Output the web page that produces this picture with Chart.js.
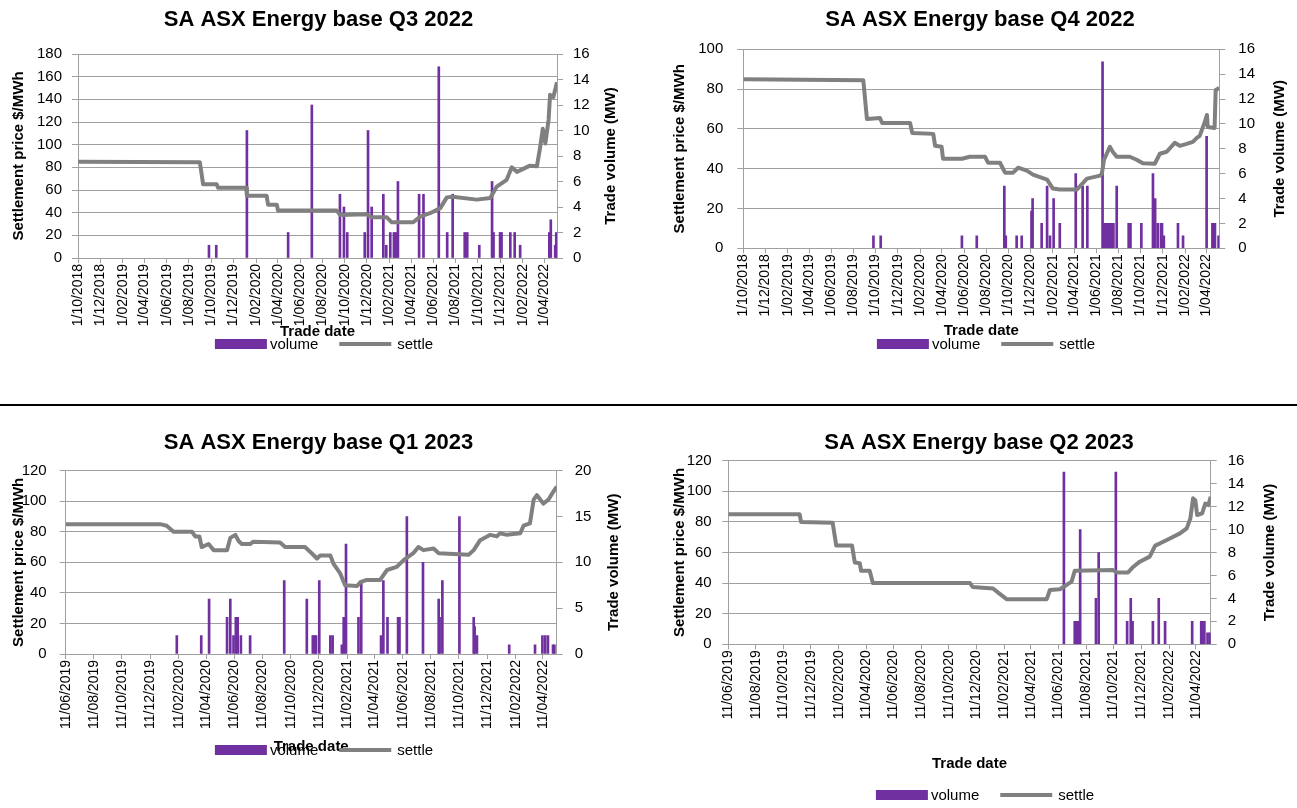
<!DOCTYPE html>
<html><head><meta charset="utf-8">
<script src="https://cdn.jsdelivr.net/npm/chart.js@4.4.1/dist/chart.umd.min.js"></script>
<style>
html,body{margin:0;padding:0;background:#fff;overflow:hidden;width:1297px;height:808px;}
canvas{position:absolute;}
#sep{position:absolute;left:0;top:404px;width:1297px;height:2px;background:#000;}
</style></head><body>
<canvas id="c1"></canvas><canvas id="c2"></canvas><canvas id="c3"></canvas><canvas id="c4"></canvas>
<div id="sep"></div>
<script>
// ---------------- DATA ----------------
const ticksOct2018 = ['1/10/2018','1/12/2018','1/02/2019','1/04/2019','1/06/2019','1/08/2019','1/10/2019','1/12/2019','1/02/2020','1/04/2020','1/06/2020','1/08/2020','1/10/2020','1/12/2020','1/02/2021','1/04/2021','1/06/2021','1/08/2021','1/10/2021','1/12/2021','1/02/2022','1/04/2022'];
const ticksJun2019 = ['11/06/2019','11/08/2019','11/10/2019','11/12/2019','11/02/2020','11/04/2020','11/06/2020','11/08/2020','11/10/2020','11/12/2020','11/02/2021','11/04/2021','11/06/2021','11/08/2021','11/10/2021','11/12/2021','11/02/2022','11/04/2022'];

// Q3 2022
const q3SettleDates = ['2018-10-01','2019-08-31','2019-09-09','2019-10-16','2019-10-20','2020-01-05','2020-01-07','2020-03-01','2020-03-05','2020-03-29','2020-04-01','2020-09-09','2020-09-18','2020-12-01','2020-12-14','2021-01-24','2021-02-07','2021-04-07','2021-04-26','2021-05-23','2021-06-20','2021-07-08','2021-07-24','2021-09-28','2021-11-04','2021-11-22','2021-12-19','2022-01-02','2022-01-16','2022-02-21','2022-03-12','2022-03-21','2022-03-28','2022-04-04','2022-04-13','2022-04-17','2022-04-26','2022-05-06'];
const q3Settle = [85,84.5,65,65,62,62,55,55,47,47,42,42,38,38.5,36,36,31.5,31.5,36.5,39.5,44,53.5,54,51.5,53,63,69,80,76,81.5,81,98,114,101,122,144,142,155];
const q3VolDates = ['2019-09-25','2019-10-15','2020-01-07','2020-04-29','2020-07-03','2020-09-18','2020-09-29','2020-10-08','2020-11-25','2020-12-04','2020-12-14','2021-01-15','2021-01-23','2021-02-03','2021-02-13','2021-02-18','2021-02-24','2021-04-23','2021-05-05','2021-06-16','2021-07-09','2021-07-24','2021-08-26','2021-09-02','2021-10-05','2021-11-09','2021-11-13','2021-12-01','2021-12-05','2021-12-29','2022-01-10','2022-01-25','2022-04-15','2022-04-19','2022-05-01','2022-05-04'];
const q3Volume = [1,1,10,2,12,5,4,2,2,10,4,5,1,2,2,2,6,5,5,15,2,5,2,2,1,6,2,2,2,2,2,1,2,3,1,2];

// Q4 2022
const q4SettleDates = ['2018-10-01','2019-08-28','2019-09-07','2019-10-13','2019-10-19','2020-01-04','2020-01-10','2020-03-08','2020-03-13','2020-03-31','2020-04-04','2020-05-26','2020-06-17','2020-07-29','2020-08-06','2020-09-08','2020-09-22','2020-10-14','2020-10-28','2020-11-21','2020-12-08','2021-01-16','2021-02-01','2021-02-20','2021-04-08','2021-05-06','2021-06-11','2021-06-16','2021-06-22','2021-07-08','2021-07-16','2021-07-27','2021-09-01','2021-09-20','2021-10-07','2021-11-09','2021-11-23','2021-12-12','2022-01-03','2022-01-17','2022-02-05','2022-02-22','2022-03-05','2022-03-13','2022-03-27','2022-04-02','2022-04-04','2022-04-23','2022-04-26','2022-05-06'];
const q4Settle = [85,84.5,65,65.5,63,63,58,57.5,51.5,51,45,45,46,46,43,43,38,38,40.5,39,37,34.5,30,29.5,29.5,35,36.5,37.5,44.5,51,48.5,46,46,44.5,42.7,42.5,47.5,48.5,53,51.5,52.5,53.5,55.5,56.5,63.5,67,61,60.5,79.5,80.5];
const q4VolDates = ['2019-09-25','2019-10-15','2020-05-26','2020-07-06','2020-09-20','2020-09-24','2020-10-24','2020-11-07','2020-12-04','2020-12-07','2021-01-01','2021-01-16','2021-01-24','2021-02-03','2021-02-20','2021-04-05','2021-04-24','2021-05-07','2021-06-18','2021-06-22','2021-06-26','2021-06-30','2021-07-05','2021-07-09','2021-07-13','2021-07-18','2021-07-27','2021-08-29','2021-09-03','2021-10-03','2021-11-04','2021-11-10','2021-11-17','2021-11-26','2021-11-29','2021-12-04','2022-01-12','2022-01-26','2022-04-01','2022-04-17','2022-04-21','2022-04-24','2022-05-04'];
const q4Volume = [1,1,1,1,5,1,1,1,3,4,2,5,1,4,2,6,5,5,15,2,2,2,2,2,2,2,5,2,2,2,6,4,2,2,2,1,2,1,9,2,2,2,1];

// Q1 2023
const q1SettleDates = ['2019-06-11','2020-01-02','2020-01-16','2020-01-31','2020-03-11','2020-03-18','2020-03-27','2020-04-01','2020-04-16','2020-04-27','2020-05-26','2020-06-02','2020-06-13','2020-06-20','2020-06-27','2020-07-15','2020-07-22','2020-09-18','2020-09-29','2020-11-11','2020-11-22','2020-12-07','2020-12-14','2021-01-05','2021-01-12','2021-01-26','2021-02-06','2021-03-04','2021-03-11','2021-03-25','2021-04-23','2021-05-08','2021-05-29','2021-06-13','2021-07-04','2021-07-15','2021-07-26','2021-08-17','2021-08-28','2021-11-01','2021-11-12','2021-11-26','2021-12-18','2022-01-01','2022-01-08','2022-01-23','2022-02-21','2022-02-28','2022-03-14','2022-03-22','2022-03-29','2022-04-12','2022-04-23','2022-05-01','2022-05-11'];
const q1Settle = [85,85,84,80,80,77,77,70,72,68,68,76,78,74,72,72,73.5,73,70,70,67,62.5,64.5,64.5,59,53,45,44.5,47,48.5,48.5,55,57,61.5,66,70,68,69,66,65,68,74.5,78,77,79,78,79,84,85.5,101,104,98.5,101,105,109.5];
const q1VolDates = ['2020-02-07','2020-03-31','2020-04-17','2020-05-26','2020-06-02','2020-06-09','2020-06-14','2020-06-18','2020-06-25','2020-07-15','2020-09-27','2020-11-15','2020-11-28','2020-12-02','2020-12-05','2020-12-12','2021-01-05','2021-01-10','2021-01-30','2021-02-03','2021-02-08','2021-03-07','2021-03-13','2021-04-25','2021-04-30','2021-05-09','2021-06-01','2021-06-04','2021-06-20','2021-07-25','2021-08-28','2021-08-30','2021-09-05','2021-10-12','2021-11-12','2021-11-14','2021-11-19','2022-01-28','2022-03-25','2022-04-10','2022-04-16','2022-04-22','2022-05-03','2022-05-06'];
const q1Volume = [2,2,6,4,6,2,4,4,2,2,8,6,2,2,2,8,2,2,1,4,12,4,8,2,8,4,4,4,15,10,6,4,8,15,4,3,2,1,1,2,2,2,1,1];

// Q2 2023
const q2SettleDates = ['2019-06-11','2019-11-16','2019-11-19','2020-01-28','2020-02-05','2020-03-11','2020-03-17','2020-03-28','2020-03-31','2020-04-19','2020-04-26','2020-11-27','2020-12-03','2021-01-17','2021-02-01','2021-02-16','2021-05-16','2021-05-23','2021-06-14','2021-06-29','2021-07-10','2021-07-17','2021-10-10','2021-10-18','2021-11-12','2021-11-24','2021-12-08','2021-12-30','2022-01-11','2022-01-22','2022-02-06','2022-03-07','2022-03-22','2022-03-30','2022-04-05','2022-04-10','2022-04-14','2022-04-25','2022-05-02','2022-05-09','2022-05-14'];
const q2Settle = [85,85,80,79.5,64.5,64.5,53.5,53,48,48,40,40,37.5,36.5,33,29.5,29.5,35.5,36,38.8,41,48,48.5,47,47,50.7,54,57.3,64.5,66,68.2,72.5,75.8,82.3,95.4,94,84.5,85.6,92,91,96.5];
const q2VolDates = ['2021-06-23','2021-07-17','2021-07-20','2021-07-24','2021-07-29','2021-09-02','2021-09-08','2021-10-16','2021-11-10','2021-11-18','2021-11-22','2022-01-06','2022-01-19','2022-02-02','2022-04-03','2022-04-23','2022-04-26','2022-04-30','2022-05-07','2022-05-12'];
const q2Volume = [15,2,2,2,10,4,8,15,2,4,2,2,4,2,2,2,2,2,1,1];

// ---------------- HELPERS ----------------
const SANS = '"Liberation Sans", Arial, Helvetica, sans-serif';
function fontAvailable(name) {
  const ctx = document.createElement('canvas').getContext('2d');
  const s = 'mmmmmmmmmmlli1/0123456789';
  ctx.font = '40px monospace'; const a = ctx.measureText(s).width;
  ctx.font = '40px serif'; const b = ctx.measureText(s).width;
  ctx.font = '40px "' + name + '", monospace'; const c = ctx.measureText(s).width;
  ctx.font = '40px "' + name + '", serif'; const d = ctx.measureText(s).width;
  return a !== c || b !== d;
}
let TF, XF;
if (fontAvailable('Liberation Sans Narrow')) {
  TF = {family: '"Liberation Sans Narrow", ' + SANS, size: 17}; XF = TF;
} else if (fontAvailable('Arial Narrow')) {
  TF = {family: '"Arial Narrow", ' + SANS, size: 17}; XF = TF;
} else {
  TF = {family: SANS, size: 15}; XF = {family: SANS, size: 14};
}

function dayNum(s) { const p = s.split('-').map(Number); return Date.UTC(p[0], p[1] - 1, p[2]) / 864e5; }
function tickDay(l) { const p = l.split('/').map(Number); return Date.UTC(p[2], p[1] - 1, p[0]) / 864e5; }

Chart.defaults.font.family = SANS;
Chart.defaults.color = '#000';

const GRID = '#a0a0a0';
const PURPLE = '#7030a0';
const GREY = '#808080';

const rightTitlePlugin = {
  id: 'rightTitle',
  afterDraw(chart, args, opts) {
    if (!opts || !opts.text) return;
    const {ctx, chartArea} = chart;
    ctx.save();
    ctx.font = 'bold 15px ' + SANS;
    ctx.fillStyle = '#000';
    ctx.textAlign = 'center';
    ctx.textBaseline = 'middle';
    ctx.translate(chartArea.right + opts.offset, (chartArea.top + chartArea.bottom) / 2);
    ctx.rotate(-Math.PI / 2);
    ctx.fillText(opts.text, 0, 0);
    ctx.restore();
  }
};

// Legend drawn from the chart's own datasets (labels and colours)
const legendPlugin = {
  id: 'sketchLegend',
  afterDraw(chart, args, opts) {
    const {ctx} = chart;
    const ds = chart.data.datasets;
    ctx.save();
    ctx.font = TF.size + 'px ' + TF.family;
    const widths = ds.map((d, i) => opts.boxWidth + opts.textGap[i] + ctx.measureText(d.label).width);
    const total = widths.reduce((a, b) => a + b, 0) + opts.itemGap * (ds.length - 1);
    let x = opts.cx - total / 2;
    const y = opts.cy;
    ds.forEach((d, i) => {
      if (d.type === 'bar') {
        ctx.fillStyle = d.backgroundColor;
        ctx.fillRect(x, y - opts.boxHeight / 2, opts.boxWidth, opts.boxHeight);
      } else {
        ctx.strokeStyle = d.borderColor;
        ctx.lineWidth = d.borderWidth;
        ctx.beginPath(); ctx.moveTo(x, y); ctx.lineTo(x + opts.boxWidth, y); ctx.stroke();
      }
      ctx.fillStyle = '#000'; ctx.textAlign = 'left'; ctx.textBaseline = 'middle';
      ctx.fillText(d.label, x + opts.boxWidth + opts.textGap[i], y + 1);
      x += widths[i] + opts.itemGap;
    });
    ctx.restore();
  }
};

function makeChart(P) {
  const L = P.L;
  const cv = document.getElementById(P.id);
  const H = Math.round(L.legendY - L.y + 14);
  cv.width = L.w; cv.height = H;
  cv.style.left = L.x + 'px'; cv.style.top = L.y + 'px';
  cv.style.width = L.w + 'px'; cv.style.height = H + 'px';
  const tLH = 22 * 1.2;
  const tPadTop = L.titleY - L.y - tLH / 2;
  const tPadBottom = (L.top - L.y) - tPadTop - tLH;
  const xAxisH = H - (L.bottom - L.y);
  const xTitlePadBottom = H - (L.xTitleY - L.y) - 9;
  const tickVals = P.ticks.map(tickDay);
  const settle = P.settleDates.map((d, i) => ({x: dayNum(d), y: P.settle[i]}));
  const vol = P.volDates.map((d, i) => ({x: dayNum(d), y: P.vol[i]}));
  return new Chart(cv, {
    type: 'line',
    data: {
      datasets: [
        {type: 'bar', label: 'volume', data: vol, yAxisID: 'y1', backgroundColor: PURPLE, borderWidth: 0,
         barThickness: 2, order: 2},
        {type: 'line', label: 'settle', data: settle, yAxisID: 'y', borderColor: GREY, backgroundColor: GREY,
         borderWidth: 4, pointRadius: 0, pointHoverRadius: 0, tension: 0, fill: false,
         borderJoinStyle: 'round', order: 1}
      ]
    },
    options: {
      responsive: false, animation: false, devicePixelRatio: 1,
      layout: {padding: 0},
      events: [],
      plugins: {
        title: {display: true, text: P.title, color: '#000', font: {family: SANS, size: 22, weight: 'bold'},
                padding: {top: tPadTop, bottom: tPadBottom}},
        legend: {display: false},
        tooltip: {enabled: false},
        rightTitle: {text: 'Trade volume (MW)', offset: L.rTitleX - L.right},
        sketchLegend: {cx: L.legendX - L.x, cy: L.legendY - L.y, boxWidth: 52, boxHeight: 10, textGap: [3, 6], itemGap: 21}
      },
      scales: {
        x: {type: 'linear', min: settle[0].x, max: settle[settle.length - 1].x, offset: false,
            afterBuildTicks: s => { s.ticks = tickVals.map(v => ({value: v})); },
            afterFit: s => { s.height = xAxisH; },
            ticks: {autoSkip: false, minRotation: 90, maxRotation: 90, padding: 1, color: '#000', font: XF,
                    callback: (v, i) => P.ticks[i]},
            grid: {display: true, drawOnChartArea: false, drawTicks: true, tickLength: 5, color: GRID, offset: false},
            border: {display: true, color: GRID, width: 1},
            title: {display: true, text: 'Trade date', color: '#000', font: {family: SANS, size: 15, weight: 'bold'},
                    padding: {top: 0, bottom: xTitlePadBottom}}},
        y: {type: 'linear', position: 'left', min: 0, max: P.yMax,
            ticks: {stepSize: P.yStep, padding: L.lPad, color: '#000', font: TF},
            grid: {color: GRID, drawTicks: true, tickLength: 6},
            border: {display: true, color: GRID},
            afterFit: s => { s.width = L.left - L.x; },
            title: {display: true, text: 'Settlement price $/MWh', color: '#000', font: {family: SANS, size: 15, weight: 'bold'},
                    padding: {top: L.lTitleX - L.x - 9, bottom: 0}}},
        y1: {type: 'linear', position: 'right', min: 0, max: P.y1Max,
             ticks: {stepSize: P.y1Step, padding: L.rPad, color: '#000', font: TF},
             grid: {drawOnChartArea: false, drawTicks: true, tickLength: 6, color: GRID},
             border: {display: true, color: GRID},
             afterFit: s => { s.width = L.x + L.w - L.right; }}
      }
    },
    plugins: [rightTitlePlugin, legendPlugin]
  });
}

const PANELS = [
  {id: 'c1', title: 'SA ASX Energy base Q3 2022', ticks: ticksOct2018, settleDates: q3SettleDates, settle: q3Settle,
   volDates: q3VolDates, vol: q3Volume, yMax: 180, yStep: 20, y1Max: 16, y1Step: 2,
   L: {x: 0, y: 0, w: 637, top: 54, bottom: 258, left: 78, right: 557, titleY: 20, xTitleY: 332, legendY: 344, legendX: 324,
       lTitleX: 18.5, rTitleX: 610.5, lPad: 10, rPad: 10}},
  {id: 'c2', title: 'SA ASX Energy base Q4 2022', ticks: ticksOct2018, settleDates: q4SettleDates, settle: q4Settle,
   volDates: q4VolDates, vol: q4Volume, yMax: 100, yStep: 20, y1Max: 16, y1Step: 2,
   L: {x: 663, y: 0, w: 634, top: 49.3, bottom: 248.3, left: 743.3, right: 1219.3, titleY: 20, xTitleY: 331, legendY: 344, legendX: 986,
       lTitleX: 680, rTitleX: 1280, lPad: 14, rPad: 13}},
  {id: 'c3', title: 'SA ASX Energy base Q1 2023', ticks: ticksJun2019, settleDates: q1SettleDates, settle: q1Settle,
   volDates: q1VolDates, vol: q1Volume, yMax: 120, yStep: 20, y1Max: 20, y1Step: 5,
   L: {x: 0, y: 423, w: 637, top: 470.7, bottom: 654, left: 65.7, right: 556.7, titleY: 443, xTitleY: 747, legendY: 750, legendX: 324,
       lTitleX: 18.5, rTitleX: 614, lPad: 13, rPad: 12}},
  {id: 'c4', title: 'SA ASX Energy base Q2 2023', ticks: ticksJun2019, settleDates: q2SettleDates, settle: q2Settle,
   volDates: q2VolDates, vol: q2Volume, yMax: 120, yStep: 20, y1Max: 16, y1Step: 2,
   L: {x: 661, y: 423, w: 636, top: 460.7, bottom: 644.3, left: 728.3, right: 1210.7, titleY: 442.5, xTitleY: 764, legendY: 795, legendX: 985,
       lTitleX: 680, rTitleX: 1270, lPad: 10.6, rPad: 11}}
];
PANELS.forEach(makeChart);
</script></body></html>
